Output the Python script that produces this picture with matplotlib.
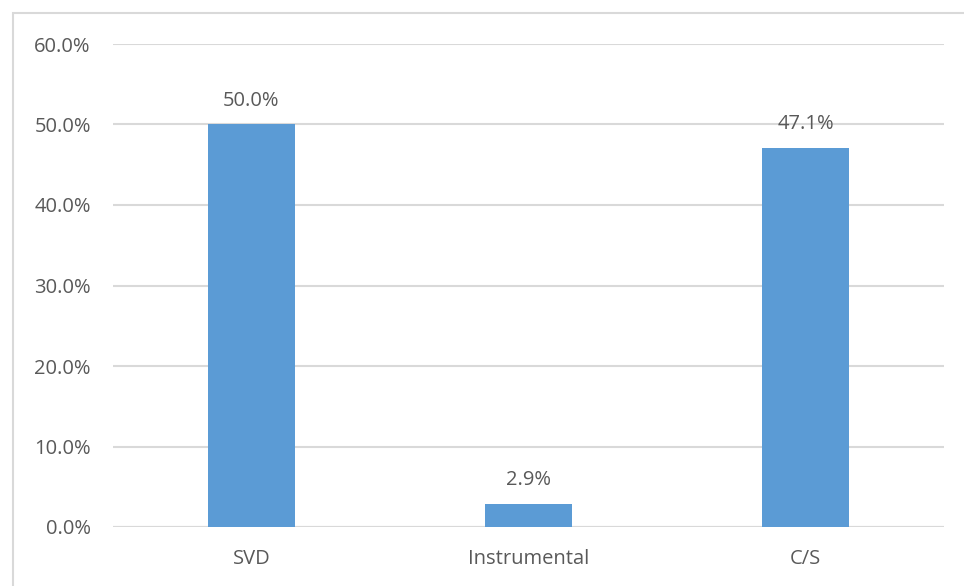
import matplotlib.pyplot as plt
from matplotlib.patches import Rectangle
from matplotlib.ticker import PercentFormatter
import numpy as np

categories = ["SVD", "Instrumental", "C/S"]
shares = [50.0, 2.9, 47.1]
y_ticks = [0, 10, 20, 30, 40, 50, 60]

BAR = "#5B9BD5"
GRID = "#D9D9D9"
TEXT = "#595959"
FS = 14.5

plt.rcParams['font.family'] = ['Open Sans', 'DejaVu Sans']
plt.rcParams['font.size'] = FS

W, H = 964, 586
fig = plt.figure(figsize=(W / 100, H / 100), dpi=100)
ax = fig.add_axes([113 / W, 59 / H, (944 - 113) / W, (527 - 44) / H])

x = np.arange(len(categories))
bars = ax.bar(x, shares, width=0.314, color=BAR, zorder=3)

for rect, v in zip(bars, shares):
    ax.annotate(f"{v:.1f}%", (rect.get_x() + rect.get_width() / 2, v),
                xytext=(0, 17), textcoords="offset points",
                ha="center", va="center", color=TEXT, fontsize=FS)

ax.set_xlim(-0.5, len(categories) - 0.5)
ax.set_ylim(0, 60)
ax.set_yticks(y_ticks)
ax.yaxis.set_major_formatter(PercentFormatter(decimals=1))
ax.set_xticks(x)
ax.set_xticklabels(categories)
ax.grid(axis="y", color=GRID, linewidth=1.5, zorder=0)
for s in ax.spines.values():
    s.set_visible(False)
ax.axhline(0, color=GRID, linewidth=1.5, zorder=2)
ax.tick_params(length=0, colors=TEXT, labelsize=FS)
ax.tick_params(axis="y", pad=16)
ax.tick_params(axis="x", pad=16)

# chart frame, running off the right and bottom edges
fig.add_artist(Rectangle((13 / W, -0.1), 1.2, (H - 13) / H + 0.1,
                         transform=fig.transFigure, fill=False,
                         edgecolor=GRID, linewidth=1.5, clip_on=False))

fig.savefig("out.png", dpi=100, facecolor="white")
